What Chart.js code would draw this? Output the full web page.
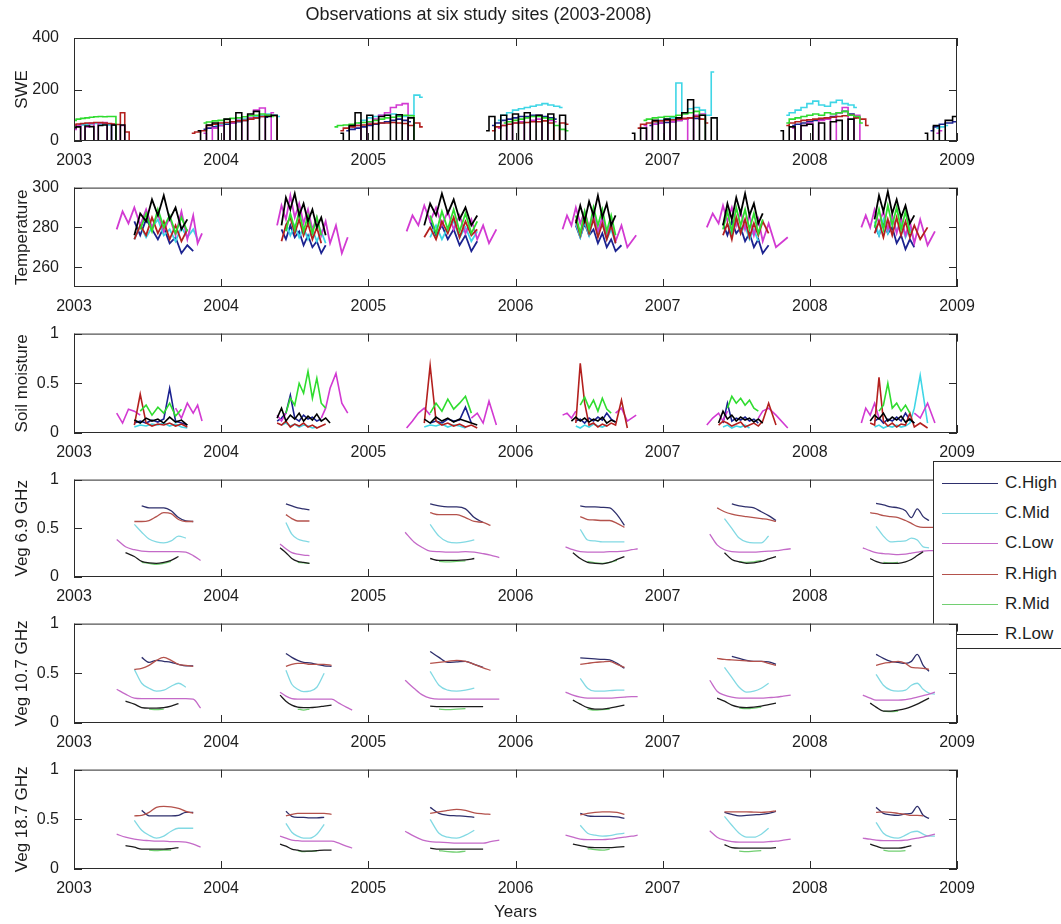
<!DOCTYPE html>
<html>
<head>
<meta charset="utf-8">
<script src="https://cdn.jsdelivr.net/npm/chart.js@4.4.1/dist/chart.umd.min.js"></script>
<style>
  body { margin: 0; background: #fff; width: 1061px; height: 924px; position: relative; overflow: hidden; font-family: "Liberation Sans", Arial, sans-serif; }
  #legend { position: absolute; left: 933px; top: 461px; width: 128px; height: 186px; border: 1px solid #2b2b2b; background: #fff; z-index: 2; }
  #legend .row { position: absolute; left: 0; height: 20px; width: 128px; }
  #legend .line { position: absolute; left: 8px; top: 10px; width: 56px; height: 0; border-top: 1.5px solid #000; }
  #legend .txt { position: absolute; left: 71px; top: 0; font-size: 17px; line-height: 20px; color: #1e1e1e; }
</style>
</head>
<body>
<div id="legend"></div>
<script>
const seriesNames = ['C.High', 'C.Mid', 'C.Low', 'R.High', 'R.Mid', 'R.Low'];
const yearTicks = [2003, 2004, 2005, 2006, 2007, 2008, 2009];
const sweTicks = [0, 200, 400];
const tempTicks = [260, 280, 300];
const fracTicks = [0, 0.5, 1];

// snow seasons (winter), one inner array per season
const sweDates = [
  [2003.00,2003.03,2003.06,2003.09,2003.12,2003.15,2003.18,2003.21,2003.24,2003.27,2003.30,2003.33,2003.36,2003.39],
  [2003.80,2003.84,2003.88,2003.92,2003.96,2004.00,2004.04,2004.08,2004.12,2004.16,2004.20,2004.24,2004.28,2004.32,2004.36,2004.40],
  [2004.77,2004.81,2004.85,2004.89,2004.93,2004.97,2005.01,2005.05,2005.09,2005.13,2005.17,2005.21,2005.25,2005.29,2005.33,2005.37],
  [2005.80,2005.84,2005.88,2005.92,2005.96,2006.00,2006.04,2006.08,2006.12,2006.16,2006.20,2006.24,2006.28,2006.32,2006.36],
  [2006.79,2006.83,2006.87,2006.91,2006.95,2006.99,2007.03,2007.07,2007.11,2007.15,2007.19,2007.23,2007.27,2007.31,2007.35,2007.39],
  [2007.80,2007.84,2007.88,2007.92,2007.96,2008.00,2008.04,2008.08,2008.12,2008.16,2008.20,2008.24,2008.28,2008.32,2008.36,2008.40],
  [2008.78,2008.82,2008.86,2008.90,2008.94,2009.00]
];
const sweCHigh = [
  [null,62,64,66,68,70,68,66,64,62,0,null,null,null],
  [null,null,45,50,55,60,65,70,75,80,85,90,95,92,null,null],
  [null,null,40,45,50,55,60,65,70,75,80,85,80,75,null,null],
  [null,60,70,80,85,90,95,95,100,100,95,90,85,null,null],
  [null,null,null,60,65,70,72,75,80,85,90,88,85,null,null,null],
  [null,null,60,65,70,75,80,85,90,95,110,115,105,90,null,null],
  [null,40,55,65,70,75]
];
const sweCMid = [
  [58,60,62,64,66,68,66,64,62,0,null,null,null,null],
  [null,null,null,null,60,65,70,75,80,85,90,95,100,105,100,95],
  [null,null,null,null,70,80,90,95,100,100,105,100,95,100,178,170],
  [null,null,80,100,110,120,125,130,135,140,145,140,135,130,null],
  [null,null,null,null,70,80,85,90,225,110,125,130,120,100,268,null],
  [null,100,110,120,130,145,155,140,135,150,158,145,140,130,null,null],
  [null,null,50,55,60,null]
];
const sweCLow = [
  [45,60,0,55,68,0,70,72,0,65,0,60,0,null],
  [null,null,30,0,50,60,0,70,80,0,90,120,128,0,110,null],
  [null,null,null,55,60,0,70,85,100,110,130,140,145,0,null,null],
  [null,null,50,60,0,70,75,0,80,85,0,80,75,null,null],
  [null,null,60,0,65,70,0,75,80,85,0,100,105,0,null,null],
  [null,null,50,0,60,70,0,80,85,0,110,130,0,100,0,null],
  [null,null,30,40,null,null]
];
const sweRHigh = [
  [62,66,68,70,70,72,72,70,68,66,64,110,35,0],
  [30,35,40,60,65,70,72,75,78,80,85,90,95,100,98,0],
  [null,40,50,55,60,62,65,68,70,70,72,70,68,60,70,55],
  [null,40,55,60,65,70,70,72,75,75,78,70,0,70,65],
  [null,50,65,70,75,78,80,82,85,88,90,95,85,70,null,null],
  [null,60,70,75,80,82,85,88,90,92,95,98,100,90,85,60],
  [null,null,null,null,null,null]
];
const sweRMid = [
  [80,85,88,90,92,94,95,94,95,95,0,null,null,null],
  [null,null,70,74,78,80,84,88,90,94,98,100,105,100,95,null],
  [55,60,62,65,70,72,75,80,85,90,92,95,100,98,0,null],
  [null,null,null,70,75,80,85,90,95,95,90,85,60,45,40],
  [null,null,80,85,90,92,95,95,100,105,110,115,100,0,null,null],
  [null,70,85,90,95,100,105,100,110,105,110,115,100,95,70,null],
  [null,null,null,null,null,null]
];
const sweRLow = [
  [52,55,0,58,56,0,60,62,0,62,0,62,0,null],
  [null,40,0,62,70,0,85,0,110,0,105,115,0,95,100,0],
  [null,30,0,60,110,0,100,0,95,100,0,102,0,90,0,null],
  [40,95,0,100,0,105,0,110,0,100,0,105,0,100,0],
  [30,0,50,0,80,0,85,0,90,110,160,0,100,0,90,0],
  [40,0,55,0,60,65,0,70,0,75,80,0,85,0,null,null],
  [30,0,60,0,80,95]
];

// summer seasons, shared by temperature and soil moisture
const summerDates = [
  [2003.29,2003.33,2003.37,2003.41,2003.45,2003.49,2003.53,2003.57,2003.61,2003.65,2003.69,2003.73,2003.77,2003.81,2003.84,2003.87],
  [2004.38,2004.41,2004.44,2004.47,2004.50,2004.53,2004.56,2004.59,2004.62,2004.65,2004.68,2004.71,2004.74,2004.78,2004.82,2004.86],
  [2005.26,2005.30,2005.34,2005.38,2005.42,2005.46,2005.50,2005.54,2005.58,2005.62,2005.66,2005.70,2005.74,2005.78,2005.82,2005.87],
  [2006.32,2006.35,2006.38,2006.41,2006.44,2006.47,2006.50,2006.53,2006.56,2006.59,2006.62,2006.65,2006.68,2006.72,2006.76,2006.82],
  [2007.30,2007.34,2007.38,2007.41,2007.44,2007.47,2007.50,2007.53,2007.56,2007.59,2007.62,2007.65,2007.68,2007.72,2007.77,2007.85],
  [2008.35,2008.38,2008.41,2008.44,2008.47,2008.50,2008.53,2008.56,2008.59,2008.62,2008.65,2008.68,2008.71,2008.75,2008.80,2008.85]
];
const tempCHigh = [
  [null,null,null,283,276,284,279,274,280,272,275,267,271,268,null,null],
  [null,279,274,281,275,278,271,276,270,273,267,271,null,null,null,null],
  [null,null,null,null,283,276,281,274,279,271,276,268,273,null,null,null],
  [null,null,null,281,275,282,276,279,272,277,270,274,268,271,null,null],
  [null,null,null,282,276,283,277,280,273,277,270,274,267,271,null,null],
  [null,null,null,281,276,283,277,280,272,276,269,274,270,null,null,null]
];
const tempCMid = [
  [null,null,null,274,281,275,280,284,276,279,273,280,275,279,274,null],
  [null,null,282,276,281,275,280,274,279,273,278,272,null,null,null,null],
  [null,null,null,null,275,281,274,280,283,275,280,273,278,null,null,null],
  [null,null,null,282,275,283,276,285,277,282,274,279,272,null,null,null],
  [null,null,null,null,282,276,284,277,281,274,279,273,null,null,null,null],
  [null,null,null,283,276,284,277,285,278,283,275,280,273,null,null,null]
];
const tempCLow = [
  [279,288,282,290,281,289,280,287,278,285,276,288,274,286,272,277],
  [281,291,284,296,285,292,282,289,279,285,276,283,272,281,267,275],
  [278,286,281,291,283,290,281,288,279,286,277,284,274,281,272,279],
  [279,286,281,290,282,288,280,287,278,285,276,283,273,281,270,276],
  [280,287,282,291,283,290,281,288,279,286,276,284,273,282,270,275],
  [280,286,280,289,282,288,279,286,277,285,276,283,272,284,271,278]
];
const tempRHigh = [
  [null,null,null,274,281,276,285,277,283,274,281,273,279,null,null,null],
  [null,273,281,285,277,284,276,282,274,280,272,null,null,null,null,null],
  [null,null,null,275,280,274,283,277,285,275,283,276,279,null,null,null],
  [null,null,null,284,276,285,277,284,275,282,274,281,272,null,null,null],
  [null,null,null,276,282,274,285,277,284,275,282,276,283,277,null,null],
  [null,null,null,277,283,275,284,276,285,276,283,275,281,274,280,null]
];
const tempRMid = [
  [null,null,null,null,279,287,278,289,280,286,277,285,278,null,null,null],
  [null,null,278,287,279,288,278,286,277,285,276,null,null,null,null,null],
  [null,null,null,null,286,277,288,279,289,278,287,277,283,null,null,null],
  [null,null,null,286,277,288,279,290,281,289,278,286,276,null,null,null],
  [null,null,null,279,288,278,290,281,289,279,287,277,284,null,null,null],
  [null,null,null,280,289,279,291,281,290,279,288,277,null,null,null,null]
];
const tempRLow = [
  [null,null,null,276,287,283,294,286,296,284,290,279,284,null,null,null],
  [null,281,295,289,297,286,292,283,289,280,285,276,null,null,null,null],
  [null,null,null,281,292,286,297,287,294,284,290,281,286,null,null,null],
  [null,null,null,282,291,283,293,286,296,285,292,281,286,null,null,null],
  [null,null,null,281,292,284,295,287,297,286,292,282,287,null,null,null],
  [null,null,null,284,296,288,298,287,294,285,291,282,286,null,null,null]
];

const soilCHigh = [
  [null,null,null,0.1,0.12,0.1,0.13,0.11,0.14,0.45,0.12,0.1,0.08,null,null,null],
  [0.12,0.15,0.2,0.38,0.15,0.12,0.18,0.14,0.16,0.12,0.14,null,null,null,null,null],
  [null,null,null,null,0.1,0.12,0.1,0.14,0.12,0.13,0.26,0.1,null,null,null,null],
  [null,null,null,0.12,0.14,0.1,0.15,0.12,0.16,0.13,0.2,0.14,0.11,null,null,null],
  [null,null,null,0.1,0.3,0.12,0.15,0.13,0.16,0.12,0.14,0.1,null,null,null,null],
  [null,null,null,0.12,0.15,0.1,0.14,0.12,0.16,0.12,0.2,0.13,0.1,null,null,null]
];
const soilCMid = [
  [null,null,null,0.06,0.08,0.07,0.09,0.08,0.1,0.07,0.09,0.06,0.05,null,null,null],
  [null,0.08,0.1,0.07,0.09,0.06,0.08,0.07,0.05,0.06,null,null,null,null,null,null],
  [null,null,null,0.06,0.08,0.07,0.09,0.06,0.08,0.07,0.05,null,null,null,null,null],
  [null,null,null,0.07,0.05,0.08,0.06,0.09,0.07,0.06,0.08,null,null,null,null,null],
  [null,null,null,0.06,0.08,0.05,0.07,0.06,0.08,0.05,null,null,null,null,null,null],
  [null,null,null,0.06,0.08,0.05,0.07,0.06,0.08,0.06,0.07,0.1,0.25,0.58,0.1,null]
];
const soilCLow = [
  [0.2,0.1,0.24,0.22,0.18,null,null,null,null,null,0.25,0.15,0.3,0.2,0.28,0.12],
  [0.18,0.12,0.2,null,null,null,null,null,null,null,0.15,0.25,0.45,0.6,0.3,0.2],
  [0.05,0.12,0.2,0.25,0.18,null,null,null,null,null,null,0.15,0.2,0.1,0.32,0.08],
  [0.18,0.2,0.15,0.22,null,null,null,null,null,null,null,null,0.2,0.25,0.12,0.18],
  [0.08,0.15,0.2,0.12,0.22,null,null,null,null,null,null,0.15,0.22,0.25,0.18,0.05],
  [0.1,0.25,0.18,0.3,0.15,null,null,null,null,null,null,null,0.2,0.15,0.3,0.1]
];
const soilRHigh = [
  [null,null,null,0.08,0.39,0.1,0.07,0.09,0.08,0.1,0.07,0.09,0.06,null,null,null],
  [0.1,0.08,0.12,0.06,0.09,0.07,0.1,0.06,0.08,0.05,0.07,0.09,null,null,null,null],
  [null,null,null,0.1,0.68,0.12,0.08,0.1,0.07,0.09,0.06,0.08,0.05,null,null,null],
  [null,null,null,0.1,0.7,0.3,0.08,0.1,0.06,0.09,0.07,0.1,0.08,0.33,0.05,null],
  [null,null,0.08,0.12,0.1,0.07,0.09,0.11,0.06,0.08,0.1,0.07,0.12,0.3,0.08,null],
  [null,null,0.1,0.08,0.56,0.12,0.07,0.1,0.06,0.09,0.08,0.2,0.06,0.1,0.05,null]
];
const soilRMid = [
  [null,null,null,null,0.22,0.28,0.18,0.26,0.2,0.3,0.17,0.24,null,null,null,null],
  [null,null,0.2,0.35,0.28,0.5,0.4,0.62,0.35,0.55,0.3,0.25,null,null,null,null],
  [null,null,null,null,0.2,0.3,0.22,0.34,0.24,0.3,0.37,0.2,null,null,null,null],
  [null,null,null,null,0.28,0.36,0.25,0.33,0.22,0.35,0.24,0.2,null,null,null,null],
  [null,null,null,null,0.25,0.37,0.3,0.35,0.28,0.33,0.25,0.22,null,null,null,null],
  [null,null,null,null,0.22,0.28,0.5,0.25,0.3,0.22,0.28,0.2,null,null,null,null]
];
const soilRLow = [
  [null,null,null,0.13,0.1,0.15,0.12,0.14,0.1,0.16,0.11,0.13,0.08,null,null,null],
  [0.15,0.25,0.12,0.18,0.14,0.2,0.12,0.17,0.13,0.19,0.12,0.15,0.1,null,null,null],
  [null,null,null,0.14,0.1,0.16,0.12,0.15,0.11,0.14,0.12,0.1,0.08,null,null,null],
  [null,null,0.12,0.16,0.12,0.15,0.11,0.14,0.12,0.16,0.1,0.13,0.11,null,null,null],
  [null,null,0.1,0.22,0.14,0.18,0.12,0.16,0.13,0.15,0.11,0.14,0.1,null,null,null],
  [null,null,0.12,0.18,0.14,0.2,0.12,0.16,0.13,0.17,0.11,0.14,0.1,null,null,null]
];

// vegetation seasons
const vegDates = [
  [2003.29,2003.35,2003.41,2003.46,2003.51,2003.56,2003.61,2003.66,2003.71,2003.76,2003.81,2003.86],
  [2004.40,2004.44,2004.48,2004.52,2004.56,2004.60,2004.65,2004.70,2004.75,2004.80,2004.85,2004.89],
  [2005.25,2005.31,2005.37,2005.42,2005.48,2005.54,2005.60,2005.66,2005.72,2005.78,2005.83,2005.89],
  [2006.27,2006.34,2006.39,2006.44,2006.49,2006.54,2006.59,2006.64,2006.69,2006.74,2006.79,2006.83],
  [2007.32,2007.37,2007.42,2007.47,2007.52,2007.57,2007.62,2007.67,2007.72,2007.77,2007.82,2007.87],
  [2008.36,2008.41,2008.45,2008.50,2008.55,2008.60,2008.65,2008.69,2008.73,2008.77,2008.81,2008.85]
];
const veg69CHigh = [
  [null,null,null,0.73,0.71,0.71,0.71,0.68,0.61,0.575,0.57,null],
  [null,0.75,0.73,0.71,0.70,0.69,null,null,null,null,null,null],
  [null,null,null,0.75,0.73,0.72,0.72,0.70,0.61,0.56,null,null],
  [null,null,null,0.73,0.72,0.72,0.715,0.71,0.64,0.53,null,null],
  [null,null,null,0.75,0.73,0.72,0.71,0.67,0.63,0.58,null,null],
  [null,null,0.755,0.74,0.72,0.71,0.68,0.61,0.70,0.62,0.58,null]
];
const veg69CMid = [
  [null,null,0.54,0.46,0.39,0.36,0.35,0.37,0.42,0.40,null,null],
  [null,0.56,0.44,0.39,0.37,0.36,null,null,null,null,null,null],
  [null,null,null,0.54,0.42,0.36,0.35,0.36,0.38,null,null,null],
  [null,null,null,0.49,0.38,0.37,0.36,0.36,0.36,0.36,null,null],
  [null,null,0.60,0.50,0.40,0.36,0.35,0.35,0.42,null,null,null],
  [null,null,0.52,0.42,0.36,0.365,0.37,0.40,0.38,0.31,0.30,null]
];
const veg69CLow = [
  [0.385,0.31,0.28,0.265,0.26,0.26,0.26,0.26,0.26,0.255,0.22,0.17],
  [0.34,0.29,0.25,0.235,0.225,0.22,null,null,null,null,null,null],
  [0.46,0.36,0.30,0.265,0.26,0.255,0.255,0.26,0.255,0.24,0.225,0.20],
  [null,0.31,0.28,0.26,0.255,0.255,0.255,0.26,0.26,0.265,0.28,0.29],
  [0.44,0.33,0.28,0.26,0.255,0.255,0.255,0.26,0.265,0.27,0.28,0.29],
  [0.30,0.27,0.25,0.24,0.235,0.23,0.235,0.245,0.255,0.265,0.27,0.27]
];
const veg69RHigh = [
  [null,null,0.57,0.57,0.58,0.62,0.66,0.65,0.59,0.57,0.57,null],
  [null,0.64,0.60,0.575,0.575,0.575,null,null,null,null,null,null],
  [null,null,null,0.66,0.64,0.64,0.64,0.61,0.57,0.56,0.53,null],
  [null,null,null,0.62,0.59,0.585,0.58,0.58,0.55,0.51,null,null],
  [null,0.71,0.67,0.645,0.63,0.62,0.61,0.60,0.59,0.57,null,null],
  [null,0.66,0.65,0.63,0.62,0.61,0.58,0.55,0.52,0.51,0.51,0.51]
];
const veg69RMid = [
  [null,null,null,0.15,0.14,0.13,0.14,0.16,null,null,null,null],
  [null,null,null,0.15,0.145,0.14,null,null,null,null,null,null],
  [null,null,null,null,0.16,0.155,0.16,0.165,null,null,null,null],
  [null,null,null,null,0.16,0.145,0.14,0.15,0.17,null,null,null],
  [null,null,null,null,0.16,0.15,0.155,0.17,null,null,null,null],
  [null,null,null,0.15,0.145,0.15,null,null,null,null,null,null]
];
const veg69RLow = [
  [null,0.25,0.21,0.16,0.145,0.14,0.15,0.17,0.21,null,null,null],
  [0.30,0.25,0.19,0.16,0.15,0.14,null,null,null,null,null,null],
  [null,null,null,0.19,0.17,0.17,0.17,0.175,0.19,null,null,null],
  [null,null,0.25,0.19,0.15,0.14,0.135,0.15,0.18,0.21,null,null],
  [null,null,0.25,0.18,0.155,0.14,0.145,0.16,0.185,0.21,null,null],
  [null,0.19,0.16,0.14,0.14,0.14,0.155,0.18,0.22,0.26,null,null]
];

const veg107CHigh = [
  [null,null,null,0.66,0.61,0.63,0.62,0.61,0.59,0.575,0.575,null],
  [null,0.70,0.66,0.63,0.61,0.605,0.59,0.575,0.57,null,null,null],
  [null,null,null,0.72,0.66,0.61,0.615,0.62,0.59,0.56,null,null],
  [null,null,null,0.655,0.65,0.645,0.64,0.635,0.60,0.55,null,null],
  [null,null,null,0.67,0.65,0.63,0.62,0.62,0.615,0.59,null,null],
  [null,null,0.69,0.65,0.62,0.61,0.60,0.62,0.69,0.58,0.52,null]
];
const veg107CMid = [
  [null,null,0.54,0.40,0.35,0.32,0.33,0.37,0.40,0.36,null,null],
  [null,0.53,0.39,0.34,0.315,0.32,0.36,0.50,null,null,null,null],
  [null,null,null,0.52,0.38,0.33,0.32,0.33,0.35,null,null,null],
  [null,null,null,0.45,0.35,0.32,0.32,0.325,0.33,0.33,null,null],
  [null,null,0.56,0.46,0.36,0.31,0.32,0.35,0.40,null,null,null],
  [null,null,0.49,0.38,0.33,0.32,0.33,0.38,0.40,0.34,0.30,0.29]
];
const veg107CLow = [
  [0.34,0.29,0.25,0.245,0.245,0.245,0.245,0.245,0.245,0.245,0.24,0.15],
  [0.31,0.27,0.245,0.24,0.24,0.24,0.24,0.24,0.24,0.2,0.16,0.13],
  [0.43,0.35,0.28,0.25,0.24,0.24,0.24,0.24,0.24,0.24,0.24,0.24],
  [null,0.31,0.28,0.26,0.25,0.25,0.25,0.25,0.255,0.26,0.265,0.265],
  [0.43,0.32,0.28,0.26,0.25,0.25,0.25,0.25,0.255,0.26,0.27,0.28],
  [0.28,0.25,0.23,0.23,0.23,0.23,0.235,0.245,0.26,0.275,0.29,0.31]
];
const veg107RHigh = [
  [null,null,0.54,0.55,0.58,0.63,0.66,0.63,0.59,0.58,0.57,null],
  [null,0.57,0.59,0.60,0.60,0.59,0.59,0.59,0.58,null,null,null],
  [null,null,null,0.60,0.61,0.62,0.63,0.62,0.59,0.555,0.53,null],
  [null,null,null,0.59,0.60,0.61,0.615,0.62,0.59,0.56,null,null],
  [null,0.65,0.64,0.635,0.63,0.625,0.62,0.62,0.60,0.58,null,null],
  [null,null,0.58,0.60,0.61,0.62,0.60,0.56,0.555,0.55,0.54,null]
];
const veg107RMid = [
  [null,null,null,null,0.14,0.135,0.14,null,null,null,null,null],
  [null,null,null,0.14,0.13,0.14,null,null,null,null,null,null],
  [null,null,null,null,0.14,0.135,0.14,0.145,null,null,null,null],
  [null,null,null,null,0.14,0.13,0.135,0.14,null,null,null,null],
  [null,null,null,null,0.15,0.145,0.15,0.16,null,null,null,null],
  [null,null,null,0.12,0.115,0.12,null,null,null,null,null,null]
];
const veg107RLow = [
  [null,0.22,0.19,0.155,0.15,0.15,0.155,0.17,0.195,null,null,null],
  [0.28,0.22,0.18,0.16,0.155,0.155,0.16,0.17,0.18,null,null,null],
  [null,null,null,0.17,0.165,0.165,0.165,0.165,0.165,0.165,null,null],
  [null,null,0.23,0.19,0.155,0.14,0.14,0.15,0.165,0.18,null,null],
  [null,0.25,0.22,0.18,0.16,0.155,0.16,0.17,0.185,0.20,null,null],
  [null,0.20,0.16,0.12,0.12,0.13,0.145,0.165,0.19,0.22,0.25,null]
];

const veg187CHigh = [
  [null,null,null,0.59,0.535,0.535,0.535,0.535,0.54,0.57,0.57,null],
  [null,0.58,0.53,0.52,0.52,0.515,0.515,0.52,null,null,null,null],
  [null,null,null,0.62,0.56,0.54,0.535,0.53,0.52,null,null,null],
  [null,null,null,0.56,0.535,0.53,0.53,0.53,0.525,0.51,null,null],
  [null,null,0.57,0.55,0.535,0.54,0.545,0.55,0.56,0.58,null,null],
  [null,null,0.62,0.56,0.545,0.54,0.555,0.56,0.63,0.54,0.51,null]
];
const veg187CMid = [
  [null,null,0.49,0.39,0.34,0.31,0.33,0.38,0.41,0.41,0.41,null],
  [null,0.46,0.37,0.33,0.31,0.31,0.35,0.45,null,null,null,null],
  [null,null,null,0.50,0.36,0.32,0.31,0.34,0.39,null,null,null],
  [null,null,null,0.44,0.36,0.34,0.33,0.335,0.35,0.36,null,null],
  [null,null,0.53,0.44,0.36,0.32,0.32,0.35,0.41,null,null,null],
  [null,null,0.47,0.36,0.32,0.31,0.34,0.37,0.38,0.35,0.33,0.33]
];
const veg187CLow = [
  [0.35,0.32,0.30,0.29,0.285,0.28,0.28,0.275,0.275,0.27,0.25,0.22],
  [0.33,0.31,0.29,0.285,0.28,0.28,0.28,0.28,0.28,0.26,0.23,0.21],
  [0.38,0.33,0.29,0.275,0.27,0.265,0.26,0.26,0.26,0.26,0.275,0.29],
  [null,0.34,0.32,0.30,0.295,0.295,0.295,0.30,0.31,0.32,0.33,0.34],
  [0.385,0.32,0.29,0.275,0.27,0.27,0.27,0.27,0.275,0.28,0.29,0.30],
  [0.31,0.30,0.29,0.285,0.285,0.285,0.29,0.30,0.31,0.32,0.335,0.35]
];
const veg187RHigh = [
  [null,null,0.535,0.54,0.57,0.62,0.63,0.625,0.61,0.58,0.56,null],
  [null,0.535,0.55,0.56,0.56,0.56,0.56,0.56,0.55,null,null,null],
  [null,null,null,0.56,0.575,0.59,0.60,0.59,0.565,0.555,0.55,null],
  [null,null,null,0.545,0.56,0.57,0.575,0.575,0.57,0.55,null,null],
  [null,null,0.575,0.575,0.575,0.575,0.572,0.57,0.575,0.585,null,null],
  [null,null,0.57,0.575,0.57,0.56,0.55,0.54,0.54,0.535,null,null]
];
const veg187RMid = [
  [null,null,null,null,0.19,0.185,0.19,0.19,null,null,null,null],
  [null,null,null,0.185,0.175,0.18,0.18,null,null,null,null,null],
  [null,null,null,null,0.185,0.175,0.17,0.18,null,null,null,null],
  [null,null,null,null,0.205,0.195,0.19,0.2,null,null,null,null],
  [null,null,null,null,0.18,0.175,0.18,0.185,null,null,null,null],
  [null,null,null,0.19,0.18,0.18,0.185,null,null,null,null,null]
];
const veg187RLow = [
  [null,0.235,0.22,0.20,0.20,0.20,0.20,0.205,0.215,null,null,null],
  [0.25,0.23,0.20,0.19,0.18,0.18,0.185,0.19,0.19,null,null,null],
  [null,null,null,0.21,0.20,0.20,0.20,0.20,0.20,0.20,null,null],
  [null,null,0.25,0.235,0.22,0.215,0.215,0.215,0.22,0.225,null,null],
  [null,null,0.245,0.215,0.21,0.21,0.21,0.21,0.21,0.215,null,null],
  [null,0.25,0.23,0.21,0.21,0.21,0.22,0.235,null,null,null,null]
];

// styles
const rawColors = ['#1b2290', '#3fd6e6', '#d23ad2', '#b3201e', '#2fdc2f', '#000000'];
const vegColors = ['#2e2f6c', '#82d9e3', '#c46ac8', '#b4524c', '#72cf72', '#1c1c1c'];
const plotLeft = 74, plotRight = 957;
const fontFamily = '"Liberation Sans", Arial, sans-serif';
const inkColor = '#1e1e1e';

Chart.defaults.font.family = fontFamily;
Chart.defaults.color = inkColor;

const panels = [
  { label: 'SWE', dates: sweDates, series: [sweCHigh, sweCMid, sweCLow, sweRHigh, sweRMid, sweRLow],
    yTicks: sweTicks, min: 0, max: 400, top: 38, bottom: 141, colors: rawColors, stepped: 'middle', width: 1.6 },
  { label: 'Temperature', dates: summerDates, series: [tempCHigh, tempCMid, tempCLow, tempRHigh, tempRMid, tempRLow],
    yTicks: tempTicks, min: 250, max: 300, top: 183, bottom: 287, colors: rawColors, width: 1.8 },
  { label: 'Soil moisture', dates: summerDates, series: [soilCHigh, soilCMid, soilCLow, soilRHigh, soilRMid, soilRLow],
    yTicks: fracTicks, min: 0, max: 1, top: 329, bottom: 433, colors: rawColors, width: 1.6 },
  { label: 'Veg 6.9 GHz', dates: vegDates, series: [veg69CHigh, veg69CMid, veg69CLow, veg69RHigh, veg69RMid, veg69RLow],
    yTicks: fracTicks, min: 0, max: 1, top: 475, bottom: 577, colors: vegColors, smooth: true, width: 1.3 },
  { label: 'Veg 10.7 GHz', dates: vegDates, series: [veg107CHigh, veg107CMid, veg107CLow, veg107RHigh, veg107RMid, veg107RLow],
    yTicks: fracTicks, min: 0, max: 1, top: 619, bottom: 723, colors: vegColors, smooth: true, width: 1.3 },
  { label: 'Veg 18.7 GHz', dates: vegDates, series: [veg187CHigh, veg187CMid, veg187CLow, veg187RHigh, veg187RMid, veg187RLow],
    yTicks: fracTicks, min: 0, max: 1, top: 765, bottom: 869, colors: vegColors, smooth: true, width: 1.3 }
];

function toPoints(dates, values) {
  const pts = [];
  dates.forEach((season, s) => {
    season.forEach((d, i) => pts.push({ x: d, y: values[s][i] }));
    pts.push({ x: season[season.length - 1], y: null });
  });
  return pts;
}

// white plot box, matlab style frame with inward ticks
const framePlugin = {
  id: 'frame',
  beforeDraw(chart) {
    const { ctx, chartArea: a } = chart;
    ctx.save();
    ctx.fillStyle = '#fff';
    ctx.fillRect(a.left, a.top, a.right - a.left, a.bottom - a.top);
    ctx.restore();
  },
  afterDatasetsDraw(chart) {
    const { ctx, chartArea: a, scales } = chart;
    const len = 8;
    ctx.save();
    ctx.strokeStyle = '#2b2b2b';
    ctx.lineWidth = 1;
    ctx.strokeRect(a.left + 0.5, a.top + 0.5, a.right - a.left - 1, a.bottom - a.top - 1);
    ctx.beginPath();
    scales.x.ticks.forEach(t => {
      const px = Math.round(scales.x.getPixelForValue(t.value)) + 0.5;
      ctx.moveTo(px, a.top); ctx.lineTo(px, a.top + len);
      ctx.moveTo(px, a.bottom); ctx.lineTo(px, a.bottom - len);
    });
    scales.y.ticks.forEach(t => {
      const py = Math.round(scales.y.getPixelForValue(t.value)) + 0.5;
      ctx.moveTo(a.left, py); ctx.lineTo(a.left + len, py);
      ctx.moveTo(a.right, py); ctx.lineTo(a.right - len, py);
    });
    ctx.stroke();
    ctx.restore();
  }
};

panels.forEach((p, i) => {
  const first = i === 0, last = i === panels.length - 1;
  const padTop = first ? 0 : 12;
  const axisH = last ? 56 : 30;
  const width = first ? 2 * ((plotLeft + plotRight) / 2) : 1061;
  const canvasTop = first ? 0 : p.top - padTop;
  const height = (first ? p.top : padTop) + (p.bottom - p.top) + axisH;

  const canvas = document.createElement('canvas');
  canvas.width = width;
  canvas.height = height;
  canvas.style.cssText = 'position:absolute;left:0;top:' + canvasTop + 'px;z-index:' + (i > 3 ? 3 : 1);
  document.body.appendChild(canvas);

  const datasets = p.series.map((vals, k) => ({
    label: seriesNames[k],
    data: toPoints(p.dates, vals),
    borderColor: p.colors[k],
    borderWidth: p.width,
    pointRadius: 0,
    spanGaps: false,
    stepped: p.stepped || false,
    cubicInterpolationMode: p.smooth ? 'monotone' : 'default',
    order: 5 - k
  }));

  new Chart(canvas, {
    type: 'line',
    data: { datasets },
    plugins: [framePlugin],
    options: {
      responsive: false,
      animation: false,
      devicePixelRatio: 1,
      events: [],
      layout: { padding: { left: 0, right: width - plotRight, top: padTop, bottom: 0 } },
      plugins: {
        legend: { display: false },
        tooltip: { enabled: false },
        title: {
          display: first,
          text: 'Observations at six study sites (2003-2008)',
          font: { size: 18, weight: 'normal' },
          color: inkColor,
          padding: { top: 4, bottom: 12.4 }
        }
      },
      scales: {
        x: {
          type: 'linear',
          min: 2003,
          max: 2009,
          grid: { display: false },
          border: { display: false },
          afterBuildTicks: s => { s.ticks = yearTicks.map(v => ({ value: v })); },
          afterFit: s => { s.height = axisH; },
          ticks: { callback: v => String(v), font: { size: 16 }, color: inkColor, padding: 2, maxRotation: 0, autoSkip: false },
          title: { display: last, text: 'Years', font: { size: 17 }, color: inkColor, padding: { top: 0, bottom: 2 } }
        },
        y: {
          min: p.min,
          max: p.max,
          grid: { display: false },
          border: { display: false },
          afterBuildTicks: s => { s.ticks = p.yTicks.map(v => ({ value: v })); },
          afterFit: s => { s.width = plotLeft; },
          ticks: { callback: v => String(v), font: { size: 16 }, color: inkColor, padding: 7 },
          title: { display: true, text: p.label, font: { size: 17 }, color: inkColor, padding: { top: 12, bottom: 0 } }
        }
      }
    }
  });
});

// legend box, drawn over the 6.9 GHz panel and under the 10.7 GHz one
const legend = document.getElementById('legend');
seriesNames.forEach((name, k) => {
  const row = document.createElement('div');
  row.className = 'row';
  row.style.top = (11 + k * 30.2) + 'px';
  row.innerHTML = '<span class="line" style="border-top-color:' + vegColors[k] + '"></span><span class="txt">' + name + '</span>';
  legend.appendChild(row);
});
</script>
</body>
</html>
